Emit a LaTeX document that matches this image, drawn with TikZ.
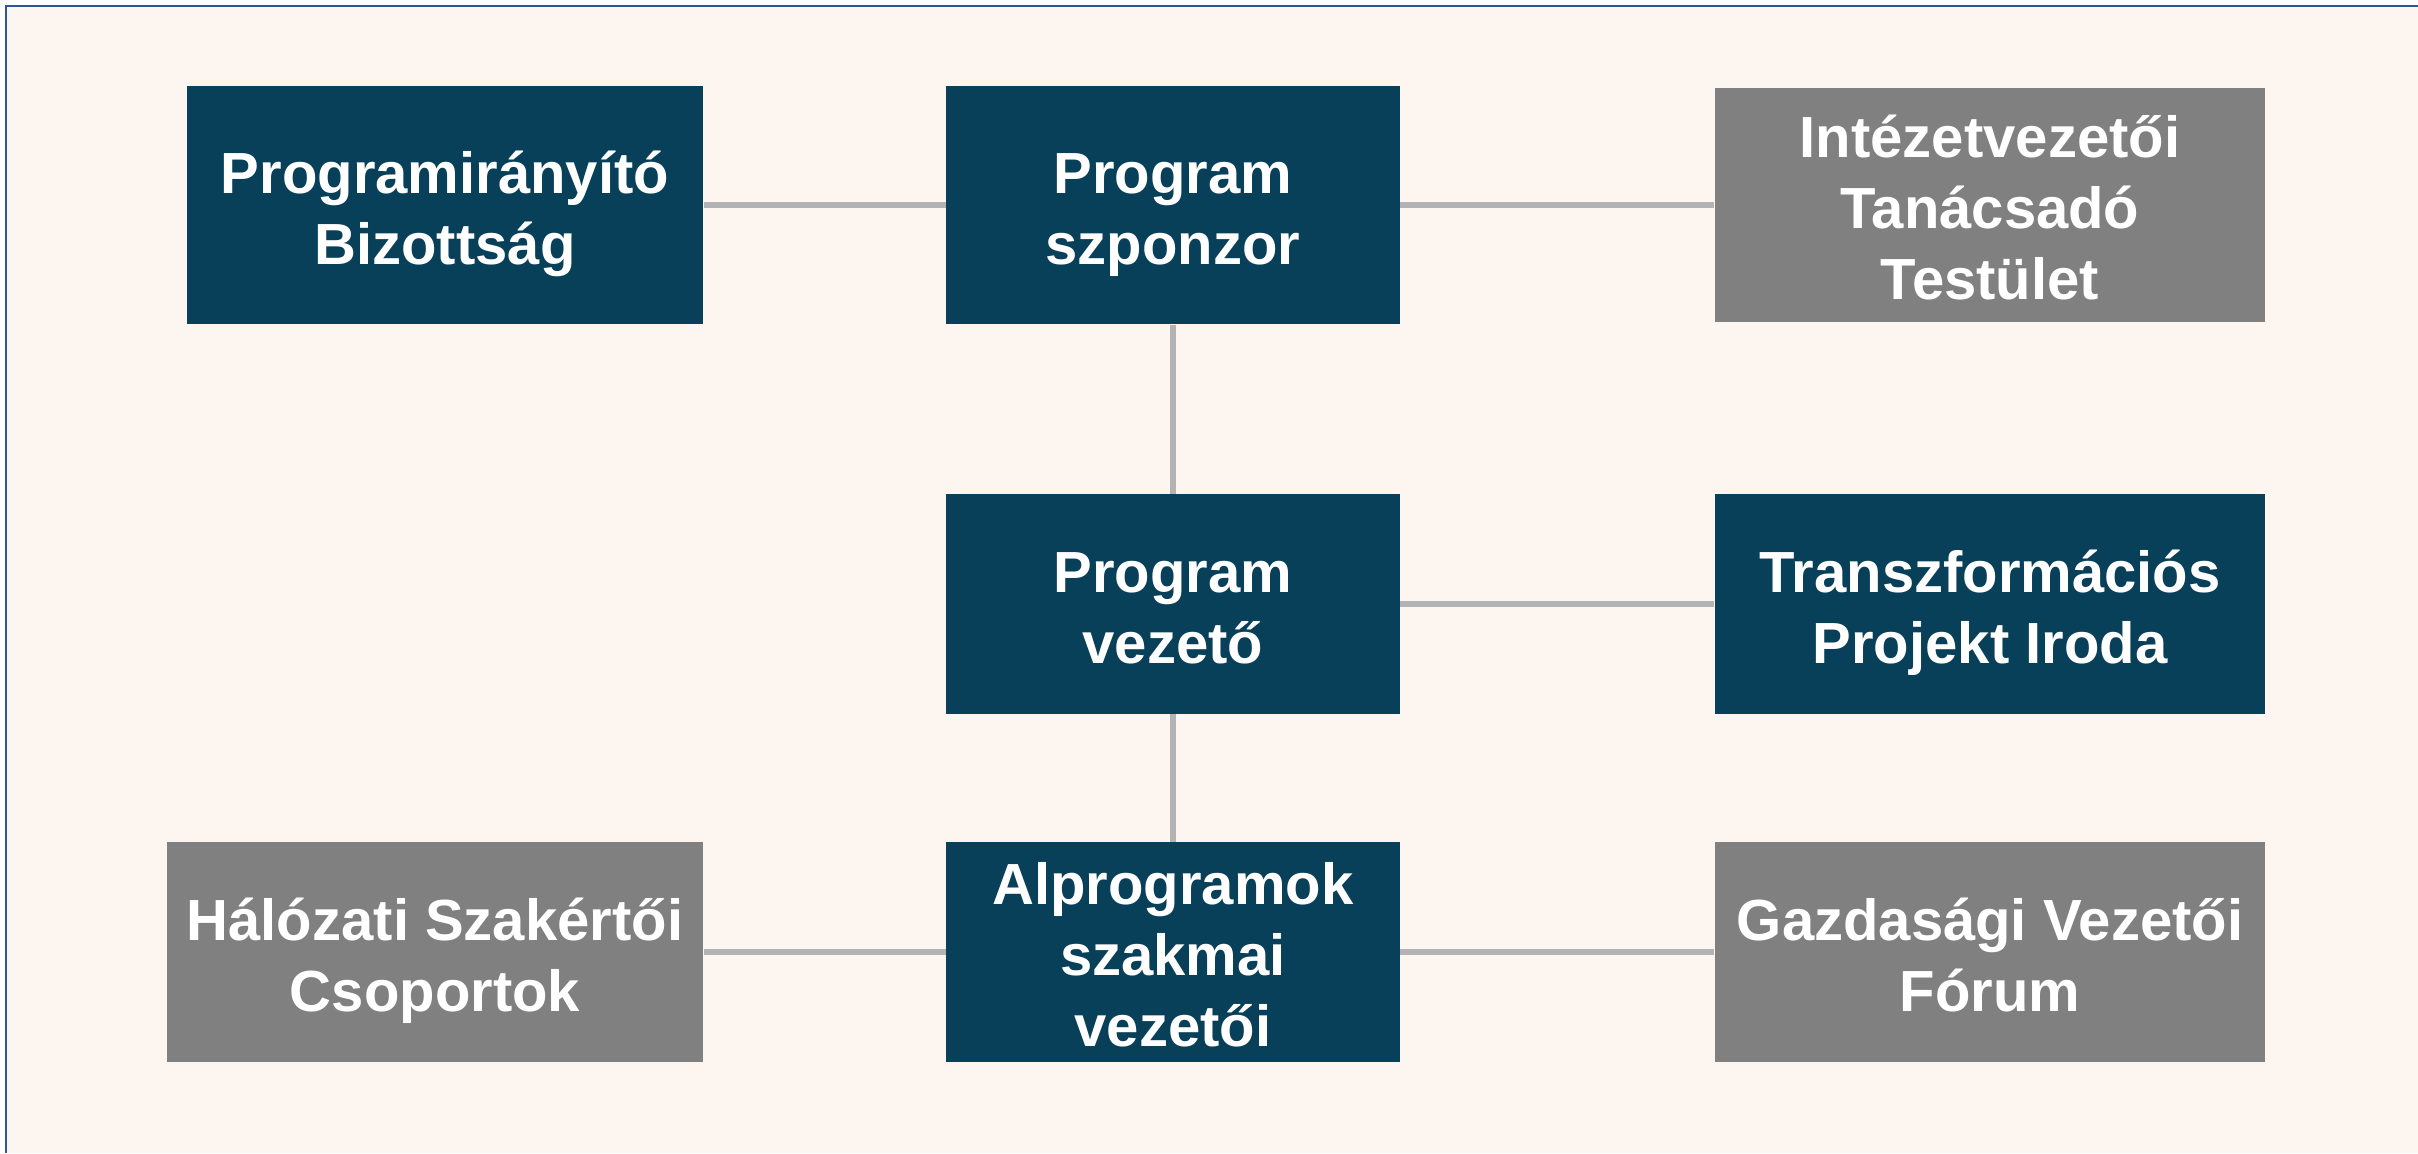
\documentclass[tikz,border=0pt]{standalone}
\usepackage{fontspec}
\setmainfont{Liberation Sans}
\usetikzlibrary{positioning}
\definecolor{navybox}{HTML}{08405A}
\definecolor{greybox}{HTML}{808080}
\definecolor{linkgrey}{HTML}{B3B3B3}
\definecolor{paper}{HTML}{FDF5F0}
\definecolor{framecol}{HTML}{2F5597}
\begin{document}
\begin{tikzpicture}[x=0.01cm, y=-0.01cm,
    unit/.style={fill=navybox, text=white, align=center, inner sep=0pt,
        font=\bfseries\fontsize{16.5}{20.2}\selectfont},
    advisory/.style={unit, fill=greybox},
    twolines/.style={text height=36.2pt, text depth=2.5pt},
    threelines/.style={text height=56.4pt, text depth=2.5pt},
    link/.style={linkgrey, line width=1.7pt}]
    % Canvas
    \clip (0,0) rectangle (2418,1153);
    \fill[white] (0,0) rectangle (2418,1153);
    \fill[paper] (6,6) rectangle (2418,1153);
    \draw[framecol, line width=0.7pt] (6,1153) -- (6,6) -- (2418,6);

    % Top row
    \node[unit, twolines, minimum width=5.16cm, minimum height=2.38cm] (steer) at (445,205) {Programirányító\\Bizottság};
    \node[unit, twolines, minimum width=4.53cm, minimum height=2.38cm] (sponsor) at (1173,205) {Program\\szponzor};
    \node[advisory, threelines, minimum width=5.50cm, minimum height=2.33cm] (council) at (1990,205) {Intézetvezetői\\Tanácsadó\\Testület};

    % Middle row
    \node[unit, twolines, minimum width=4.53cm, minimum height=2.19cm] (leader) at (1173,604) {Program\\vezető};
    \node[unit, twolines, minimum width=5.50cm, minimum height=2.19cm] (office) at (1990,604) {Transzformációs\\Projekt Iroda};

    % Bottom row
    \node[advisory, twolines, minimum width=5.36cm, minimum height=2.19cm] (experts) at (435,952) {Hálózati Szakértői\\Csoportok};
    \node[unit, threelines, minimum width=4.53cm, minimum height=2.19cm] (subleads) at (1173,952) {Alprogramok\\szakmai\\vezetői};
    \node[advisory, twolines, minimum width=5.50cm, minimum height=2.19cm] (forum) at (1990,952) {Gazdasági Vezetői\\Fórum};

    % Links
    \draw[link] (steer) -- (sponsor);
    \draw[link] (sponsor) -- (council);
    \draw[link] (sponsor) -- (leader);
    \draw[link] (leader) -- (office);
    \draw[link] (leader) -- (subleads);
    \draw[link] (experts) -- (subleads);
    \draw[link] (subleads) -- (forum);
\end{tikzpicture}
\end{document}
